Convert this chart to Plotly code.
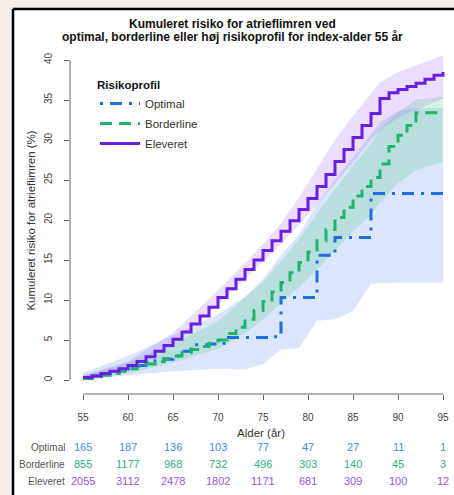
import plotly.graph_objects as go

# Cumulative risk (%) by age, one value per year of age
ages = list(range(55, 96))
optimal = [0.3, 0.5, 0.7, 0.9, 1.2, 1.5,
           1.8, 2.1, 2.4, 2.6, 3.0,
           3.6, 4.4, 4.4, 4.5, 4.6,
           5.3, 5.3, 5.3, 5.3, 5.3,
           5.4, 10.3, 10.3, 10.3, 10.3,
           15.6, 15.6, 17.8, 17.8, 17.8,
           17.8, 23.3, 23.3, 23.3, 23.3,
           23.3, 23.3, 23.3, 23.3, 23.3]
borderline = [0.2, 0.4, 0.6, 0.8, 1.1, 1.4,
              1.7, 2.0, 2.3, 2.7, 3.0,
              3.4, 3.8, 4.2, 4.6, 5.0,
              5.8, 6.6, 7.6, 8.7, 9.8,
              11.0, 12.2, 13.4, 14.7, 16.0,
              17.4, 18.8, 20.3, 21.6, 23.0,
              24.2, 25.3, 27.0, 29.2, 30.6,
              31.8, 33.4, 33.4, 33.4, 33.4]
eleveret = [0.3, 0.5, 0.8, 1.1, 1.4, 1.8,
            2.3, 2.9, 3.6, 4.3, 5.1,
            6.0, 7.0, 8.0, 9.1, 10.3,
            11.4, 12.6, 13.8, 15.0, 16.2,
            17.4, 18.6, 19.9, 21.3, 22.7,
            24.2, 25.7, 27.3, 28.8, 30.3,
            31.8, 33.3, 35.2, 35.9, 36.3,
            36.7, 37.1, 37.6, 38.1, 38.5]

# Confidence bands (lower / upper), sampled at these ages
band_ages = [55, 60, 65, 70, 73, 75, 77, 79, 81, 83, 85, 87, 88, 90, 92, 95]
opt_lo = [0.0, 0.6, 1.1, 1.4, 1.3, 2.0, 3.8, 4.0, 7.4, 7.6, 8.6, 12.0, 12.1, 12.2, 12.2, 12.2]
opt_hi = [0.9, 3.0, 5.6, 8.2, 10.4, 12.6, 15.6, 18.2, 22.0, 25.0, 27.8, 30.8, 32.2, 33.6, 34.0, 34.0]
bor_lo = [0.05, 0.8, 2.2, 3.9, 5.8, 7.6, 9.6, 11.6, 13.8, 16.2, 18.6, 20.6, 22.2, 24.6, 26.2, 27.3]
bor_hi = [0.5, 2.2, 4.6, 7.3, 10.3, 12.3, 14.8, 17.6, 20.8, 23.8, 26.8, 29.5, 31.3, 33.5, 35.0, 35.4]
ele_lo = [0.1, 1.3, 4.5, 9.4, 12.6, 14.8, 17.0, 19.4, 21.9, 24.6, 27.2, 30.0, 31.2, 32.8, 33.8, 35.2]
ele_hi = [0.6, 2.3, 5.9, 11.2, 14.6, 17.0, 19.6, 22.8, 26.4, 30.0, 33.0, 35.8, 37.2, 38.5, 39.3, 40.6]

# Numbers at risk
risk_ages = [55, 60, 65, 70, 75, 80, 85, 90, 95]
n_optimal = [165, 187, 136, 103, 77, 47, 27, 11, 1]
n_borderline = [855, 1177, 968, 732, 496, 303, 140, 45, 3]
n_eleveret = [2055, 3112, 2478, 1802, 1171, 681, 309, 100, 12]

x_ticks = [55, 60, 65, 70, 75, 80, 85, 90, 95]
y_ticks = [0, 5, 10, 15, 20, 25, 30, 35, 40]

FONT = "Liberation Sans, Arial, sans-serif"
W, H = 454, 495
ML, MR, MT, MB = 70, 2, 47, 101


def fx(p):
    return (p - ML) / (W - ML - MR)


def fy(p):
    return (H - MB - p) / (H - MT - MB)


series = [
    ("Optimal", optimal, opt_lo, opt_hi, "#1f6fe0", "rgba(90,140,240,0.22)", "3px,7px,12px,7px", "#3f8fe6"),
    ("Borderline", borderline, bor_lo, bor_hi, "#1fb36e", "rgba(60,200,120,0.22)", "12px,7px", "#2fb377"),
    ("Eleveret", eleveret, ele_lo, ele_hi, "#6a1fe0", "rgba(150,90,240,0.20)", "solid", "#9a55e6"),
]

fig = go.Figure()

for name, vals, lo, hi, col, band, dash, tcol in series:
    fig.add_trace(go.Scatter(x=band_ages, y=lo, mode="lines", line=dict(width=0),
                             showlegend=False, hoverinfo="skip"))
    fig.add_trace(go.Scatter(x=band_ages, y=hi, mode="lines", line=dict(width=0),
                             fill="tonexty", fillcolor=band, showlegend=False, hoverinfo="skip"))

for name, vals, lo, hi, col, band, dash, tcol in series:
    fig.add_trace(go.Scatter(x=ages, y=vals, mode="lines", name=name,
                             line=dict(color=col, width=3, dash=dash, shape="hv"),
                             legendgroup=name))

annotations = []
# Title, two lines
annotations.append(dict(text="<b>Kumuleret risiko for atrieflimren ved</b>", xref="paper", yref="paper",
                        x=fx(232), y=fy(24), xanchor="center", yanchor="middle", showarrow=False,
                        font=dict(family=FONT, size=12, color="#111")))
annotations.append(dict(text="<b>optimal, borderline eller høj risikoprofil for index-alder 55 år</b>",
                        xref="paper", yref="paper", x=fx(232), y=fy(37), xanchor="center",
                        yanchor="middle", showarrow=False, font=dict(family=FONT, size=12, color="#111")))

# Numbers-at-risk table
rows = [("Optimal", n_optimal, series[0][7], 447),
        ("Borderline", n_borderline, series[1][7], 464),
        ("Eleveret", n_eleveret, series[2][7], 481)]
for label, counts, tcol, py in rows:
    annotations.append(dict(text=label, xref="paper", yref="paper", x=fx(67), y=fy(py),
                            xanchor="right", yanchor="middle", showarrow=False,
                            font=dict(family=FONT, size=10, color="#555")))
    for a, n in zip(risk_ages, counts):
        annotations.append(dict(text=str(n), xref="x", yref="paper", x=a, y=fy(py),
                                xanchor="center", yanchor="middle", showarrow=False,
                                font=dict(family=FONT, size=11, color=tcol)))

shapes = [
    # white panel with a black frame on its left and top sides
    dict(type="rect", xref="paper", yref="paper", x0=fx(13), x1=fx(W + 30), y0=fy(H + 30), y1=fy(9),
         line=dict(width=0), fillcolor="white", layer="below"),
    dict(type="line", xref="paper", yref="paper", x0=fx(13), x1=fx(13), y0=fy(H + 30), y1=fy(9),
         line=dict(color="#000", width=2.5), layer="below"),
    dict(type="line", xref="paper", yref="paper", x0=fx(13), x1=fx(W + 30), y0=fy(9), y1=fy(9),
         line=dict(color="#000", width=2.5), layer="below"),
    # axis lines spanning first to last tick
    dict(type="line", xref="paper", yref="y", x0=0, x1=0, y0=0, y1=40,
         line=dict(color="#666", width=1)),
    dict(type="line", xref="x", yref="paper", x0=55, x1=95, y0=0, y1=0,
         line=dict(color="#666", width=1)),
]

fig.update_layout(
    width=W, height=H,
    margin=dict(l=ML, r=MR, t=MT, b=MB, pad=0),
    paper_bgcolor="#f4ede8",
    plot_bgcolor="rgba(0,0,0,0)",
    font=dict(family=FONT, color="#333"),
    annotations=annotations,
    shapes=shapes,
    legend=dict(
        title=dict(text="<b>Risikoprofil</b>", font=dict(family=FONT, size=11.5, color="#111")),
        font=dict(family=FONT, size=11.5, color="#333"),
        x=fx(95), y=fy(74), xanchor="left", yanchor="top",
        bgcolor="rgba(0,0,0,0)", borderwidth=0,
        itemwidth=40, tracegroupgap=1, traceorder="grouped",
    ),
    xaxis=dict(
        range=[55 - 13 / 9, 96.0], tickvals=x_ticks, ticks="outside", ticklen=5,
        tickcolor="#666", showline=False, showgrid=False, zeroline=False,
        tickfont=dict(family=FONT, size=10, color="#444"), ticklabelstandoff=9,
        title=dict(text="Alder (år)", font=dict(family=FONT, size=11.5, color="#333"), standoff=6),
    ),
    yaxis=dict(
        range=[-1.75, 41.625], tickvals=y_ticks, ticks="outside", ticklen=5,
        tickcolor="#666", showline=False, showgrid=False, zeroline=False, tickangle=-90,
        tickfont=dict(family=FONT, size=10, color="#444"), ticklabelstandoff=8,
        title=dict(text="Kumuleret risiko for atrieflimren (%)",
                   font=dict(family=FONT, size=11.5, color="#333"), standoff=4),
    ),
)

fig.write_html("out.html")
